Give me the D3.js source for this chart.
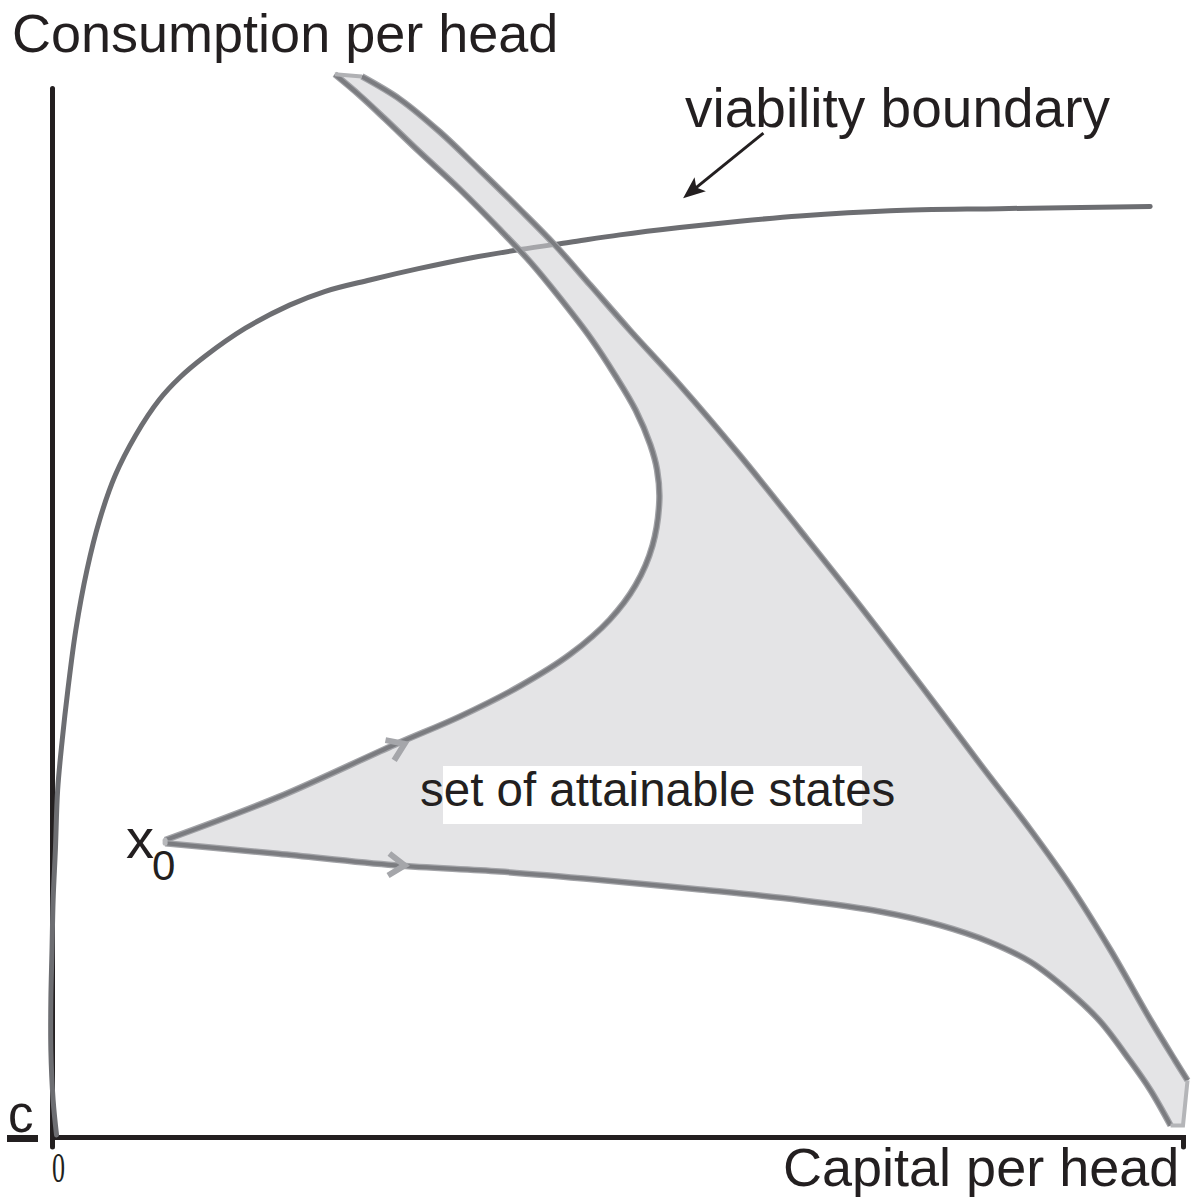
<!DOCTYPE html>
<html><head><meta charset="utf-8">
<script src="https://cdn.jsdelivr.net/npm/d3@7"></script>
<style>body{margin:0;background:#fff}svg{display:block}</style>
</head><body><svg id="chart" width="1197" height="1203"></svg>
<script>
// Axis labels / annotation texts
const yAxisTitle = "Consumption per head";
const xAxisTitle = "Capital per head";
const viabilityLabel = "viability boundary";
const regionLabel = "set of attainable states";
const minConsumptionLabel = "c";
const originLabel = "0";
const startLabel = ["x", "0"];

// Viability boundary [capital, consumption]
const viabilityBoundary = [
  [0.4,0.2],[0.1,3.5],[-0.1,8.3],[-0.1,13.1],[0,17.8],[0.1,22.6],[0.3,27.4],[0.5,33.1],
  [0.9,37.8],[1.4,42.6],[2.1,48.3],[3.1,54.1],[4.2,58.8],[5.6,63.1],[7.4,66.9],[9.5,70.3],
  [11.3,72.4],[13.5,74.4],[17.1,77.1],[21.0,79.3],[24.1,80.6],[28.1,81.7],[32.5,82.8],
  [37.0,83.8],[41.4,84.6],[45.8,85.3],[50.2,86.0],[55.5,86.7],[60.8,87.3],[66.1,87.8],
  [74.1,88.3],[83.8,88.5],[97.1,88.7]
];
// Upper trajectory from x0 to the top tip
const upperTrajectory = [
  [10.0,28.3],[20.0,32.4],[30.3,37.4],[36.1,40.1],[41.4,43.0],[45.8,46.0],
  [49.3,49.3],[51.6,52.6],[53.1,56.4],[53.7,60.7],[53.5,63.6],[52.9,66.0],[51.6,69.3],
  [49.8,72.6],[47.6,76.2],[44.9,80.0],[42.3,83.4],[39.6,86.5],[36.1,90.3],[32.5,93.9],
  [29.4,97.1],[27.2,99.3],[25.0,101.3]
];
// Outer frontier from top tip down to lower right
const rightFrontier = [
  [27.4,101.1],[30.8,98.9],[34.3,95.8],[37.8,92.2],[41.4,88.4],[44.5,85.0],[47.6,81.2],
  [51.1,76.9],[55.5,71.7],[60.8,65.0],[66.1,57.9],[71.4,50.7],[76.8,43.1],[82.1,35.5],
  [86.5,29.3],[90.0,24.0],[93.6,17.8],[97.1,11.2],[99.3,7.3],[100.4,5.4]
];
const cornerSegment = [[100.4,5.4],[100.0,1.1],[98.9,1.1]];
// Lower trajectory from x0 to lower right
const lowerTrajectory = [
  [10.0,28.0],[20.0,27.0],[30.3,25.9],[39.6,25.3],[48.5,24.5],[57.3,23.6],[66.1,22.6],
  [73.2,21.5],[78.5,20.2],[82.9,18.6],[86.5,16.7],[90.0,13.8],[92.7,11.0],[95.3,7.3],
  [97.1,4.5],[98.9,1.1]
];
// Direction arrows on trajectories
const arrowMarks = [
  {at:[30.3,37.4], toward:[36.1,40.1]},
  {at:[30.3,25.9], toward:[39.6,25.3]}
];
// Annotation arrow (from, to)
const annotationArrow = [[62.9,95.7],[55.8,89.5]];

const svg = d3.select("#chart");
svg.append("rect").attr("width",1197).attr("height",1203).attr("fill","#fff");
const x = d3.scaleLinear().domain([0,100]).range([52,1183]);
const y = d3.scaleLinear().domain([0,100]).range([1137,88]);

const line = d3.line().x(d=>x(d[0])).y(d=>y(d[1])).curve(d3.curveCatmullRom.alpha(0.5));
const lineStraight = d3.line().x(d=>x(d[0])).y(d=>y(d[1]));

// Axes
const xAxis = svg.append("g").attr("transform",`translate(0,${y(0)})`)
  .call(d3.axisBottom(x).tickValues([]).tickSizeOuter(10));
xAxis.select(".domain").attr("stroke","#231f20").attr("stroke-width",5).attr("stroke-linecap","round");
const yAxis = svg.append("g").attr("transform",`translate(${x(0)},0)`)
  .call(d3.axisLeft(y).tickValues([]).tickSizeOuter(0));
yAxis.select(".domain").attr("stroke","#231f20").attr("stroke-width",5).attr("stroke-linecap","round");

// Viability boundary
svg.append("path").attr("d",line(viabilityBoundary)).attr("fill","none")
  .attr("stroke","#6d6e72").attr("stroke-width",5).attr("stroke-linecap","round");

// Attainable set fill
const pieces = [upperTrajectory, rightFrontier, cornerSegment, lowerTrajectory.slice().reverse()];
let dFill = pieces.map((p,i)=>{
  const s = (i===2? lineStraight(p) : line(p));
  return i===0 ? s : "L" + s.slice(1);
}).join("") + "Z";
svg.append("path").attr("d",dFill).attr("fill","rgb(207,208,211)").attr("fill-opacity",0.57).attr("stroke","none");

// Boundary strokes
[upperTrajectory, rightFrontier, lowerTrajectory].forEach(p=>{
  svg.append("path").attr("d",line(p)).attr("fill","none")
    .attr("stroke","#a2a3a7").attr("stroke-width",6.5).attr("stroke-linejoin","round");
  svg.append("path").attr("d",line(p)).attr("fill","none")
    .attr("stroke","#7b7c80").attr("stroke-width",4).attr("stroke-linejoin","round");
});
svg.append("path").attr("d",lineStraight(cornerSegment)).attr("fill","none")
  .attr("stroke","#b4b5b8").attr("stroke-width",4);
svg.append("path").attr("d",lineStraight([upperTrajectory[upperTrajectory.length-1], rightFrontier[0]]))
  .attr("fill","none").attr("stroke","#b0b1b4").attr("stroke-width",4);
svg.append("path").attr("d",lineStraight([upperTrajectory[0], lowerTrajectory[0]]))
  .attr("fill","none").attr("stroke","#b8b9bc").attr("stroke-width",5).attr("stroke-linecap","round");

// Direction chevrons
arrowMarks.forEach(a=>{
  const px = x(a.at[0]), py = y(a.at[1]);
  const ang = Math.atan2(y(a.toward[1])-py, x(a.toward[0])-px)*180/Math.PI;
  svg.append("path").attr("d","M-14,-11L2,0L-14,11")
    .attr("transform",`translate(${px+8},${py}) rotate(${ang})`)
    .attr("fill","none").attr("stroke","#a5a6aa").attr("stroke-width",6);
});

// Region label
svg.append("rect").attr("x",443).attr("y",766).attr("width",419).attr("height",58).attr("fill","#fff");
svg.append("text").attr("x",420).attr("y",806).text(regionLabel)
  .attr("font-family","Liberation Sans, Arial, sans-serif").attr("font-size",47.5).attr("fill","#231f20");

// Annotation arrow
const [a0,a1] = annotationArrow;
const ax0=x(a0[0]), ay0=y(a0[1]), ax1=x(a1[0]), ay1=y(a1[1]);
const aang = Math.atan2(ay1-ay0, ax1-ax0);
svg.append("line").attr("x1",ax0).attr("y1",ay0)
  .attr("x2",ax1-14*Math.cos(aang)).attr("y2",ay1-14*Math.sin(aang))
  .attr("stroke","#231f20").attr("stroke-width",3);
svg.append("path").attr("d","M0,0L-22,-9L-17,0L-22,9Z")
  .attr("transform",`translate(${ax1},${ay1}) rotate(${aang*180/Math.PI})`).attr("fill","#231f20");

const font = "Liberation Sans, Arial, sans-serif";
svg.append("text").attr("x",12).attr("y",52).text(yAxisTitle)
  .attr("font-family",font).attr("font-size",54).attr("fill","#231f20");
svg.append("text").attr("x",685).attr("y",127).text(viabilityLabel)
  .attr("font-family",font).attr("font-size",55).attr("fill","#231f20");
svg.append("text").attr("x",783).attr("y",1186).text(xAxisTitle)
  .attr("font-family",font).attr("font-size",54).attr("fill","#231f20");
svg.append("text").attr("x",126).attr("y",858).text(startLabel[0])
  .attr("font-family",font).attr("font-size",56).attr("fill","#231f20");
svg.append("text").attr("x",152).attr("y",880).text(startLabel[1])
  .attr("font-family",font).attr("font-size",42).attr("fill","#231f20");
svg.append("text").attr("x",8).attr("y",1132).text(minConsumptionLabel)
  .attr("font-family",font).attr("font-size",51).attr("fill","#231f20");
svg.append("rect").attr("x",7).attr("y",1135).attr("width",31).attr("height",7).attr("fill","#231f20");
svg.append("text").attr("transform","translate(52,1182) scale(0.62,1)").text(originLabel)
  .attr("font-family","Liberation Serif, serif").attr("font-size",42).attr("fill","#231f20");
</script></body></html>
